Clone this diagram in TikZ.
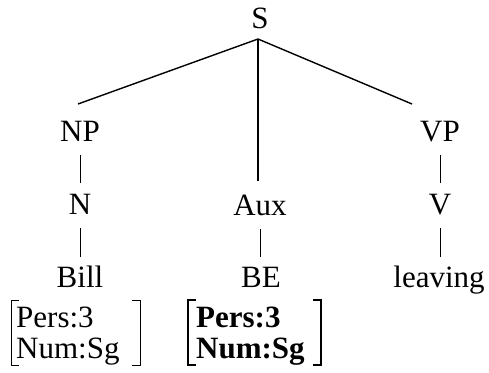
\documentclass[tikz,border=0pt]{standalone}
\usepackage{fontspec}
\setmainfont{Liberation Serif}
\begin{document}
\begin{tikzpicture}[x=1pt,y=-1pt,
  lbl/.style={anchor=base,inner sep=0pt,font=\fontsize{31}{36}\selectfont},
  feat/.style={anchor=base west,inner sep=0pt,font=\fontsize{31}{36}\selectfont},
  edge/.style={line width=1.4pt},
  stem/.style={line width=1pt},
  brk/.style={line width=1pt},
  bbrk/.style={line width=2pt}]
\useasboundingbox (0,0) rectangle (489,372);
% nodes
\node[lbl] (S) at (260,28) {S};
\node[lbl] (NP) at (80,141) {NP};
\node[lbl] (VP) at (440,141) {VP};
\node[lbl] (N) at (80,214) {N};
\node[lbl] (Aux) at (260,215) {Aux};
\node[lbl] (V) at (440,214) {V};
\node[lbl] (Bill) at (80,287) {Bill};
\node[lbl] (BE) at (261,287) {BE};
\node[lbl] (leaving) at (439,287) {leaving};
\node[feat] (f1) at (16,327) {Pers:3};
\node[feat] (f2) at (16,358) {Num:Sg};
\node[feat] (g1) at (196,327) {\bfseries Pers:3};
\node[feat] (g2) at (196,358) {\bfseries Num:Sg};
% connector endpoints
\coordinate (Sb) at (258,39);
\coordinate (NPt) at (78,104);
\coordinate (VPt) at (412,104);
\coordinate (Auxt) at (258,181);
\coordinate (NPb) at (80,155);
\coordinate (Nt) at (80,183);
\coordinate (Nb) at (80,228);
\coordinate (Billt) at (80,257);
\coordinate (Auxb) at (260,229);
\coordinate (BEt) at (260,257);
\coordinate (VPb) at (440,155);
\coordinate (Vt) at (440,183);
\coordinate (Vb) at (440,228);
\coordinate (leavingt) at (440,257);
\draw[edge] (Sb) -- (NPt);
\draw[edge] (Sb) -- (VPt);
\draw[edge] (Sb) -- (Auxt);
\draw[stem] (NPb) -- (Nt);
\draw[stem] (Nb) -- (Billt);
\draw[stem] (Auxb) -- (BEt);
\draw[stem] (VPb) -- (Vt);
\draw[stem] (Vb) -- (leavingt);
% brackets
\draw[brk] (19,300) -- (11,300) -- (11,365) -- (19,365);
\draw[brk] (132,300) -- (140,300) -- (140,365) -- (132,365);
\draw[bbrk] (196,300) -- (188,300) -- (188,365) -- (196,365);
\draw[bbrk] (313,300) -- (321,300) -- (321,365) -- (313,365);
\end{tikzpicture}
\end{document}
